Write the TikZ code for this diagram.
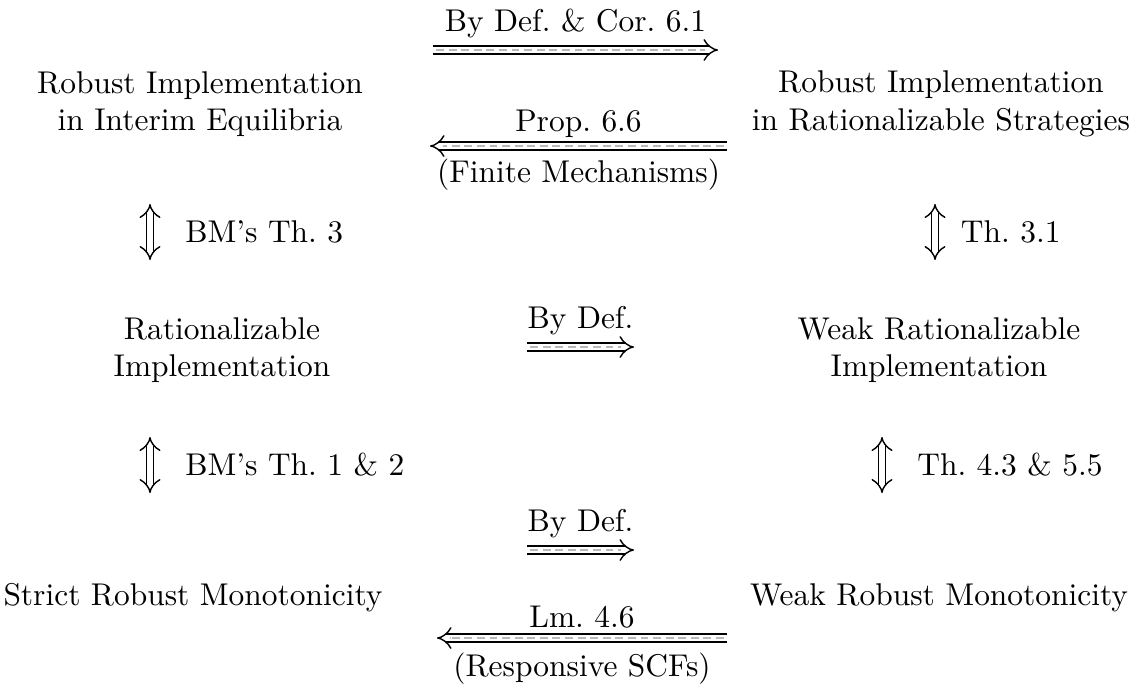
\documentclass[tikz,border=0pt]{standalone}
\usetikzlibrary{arrows.meta}
\begin{document}
\begin{tikzpicture}[x=0.318pt,y=-0.318pt,
  txt/.style={align=center,inner sep=0pt},
  lbl/.style={inner sep=0pt},
  imp/.style={double,double distance=2pt,line width=0.45pt,-{Implies},
    postaction={draw=gray!55,line width=0.35pt,dash pattern=on 2.5pt off 1.5pt,shorten >=4pt,shorten <=1pt}},
  impboth/.style={double,double distance=1.9pt,line width=0.45pt,{Implies}-{Implies}}]
\useasboundingbox (0,0) rectangle (1132,683);
% main nodes
\node[txt] (rie) at (200,104) {Robust Implementation\\in Interim Equilibria};
\node[txt] (rrs) at (941,104) {Robust Implementation\\in Rationalizable Strategies};
\node[txt] (ri) at (222,350) {Rationalizable\\Implementation};
\node[txt] (wri) at (939,350) {Weak Rationalizable\\Implementation};
\node[txt] (srm) at (193,598) {Strict Robust Monotonicity};
\node[txt] (wrm) at (939,598) {Weak Robust Monotonicity};
% arrow endpoints
\coordinate (a1s) at (433,50); \coordinate (a1e) at (718,50);
\coordinate (a2s) at (727,146); \coordinate (a2e) at (430,146);
\coordinate (a3s) at (150,204); \coordinate (a3e) at (150,260);
\coordinate (a4s) at (935,204); \coordinate (a4e) at (935,260);
\coordinate (a5s) at (527,347); \coordinate (a5e) at (634,347);
\coordinate (a6s) at (150,437); \coordinate (a6e) at (150,493);
\coordinate (a7s) at (882,437); \coordinate (a7e) at (882,493);
\coordinate (a8s) at (527,550); \coordinate (a8e) at (634,550);
\coordinate (a9s) at (727,638); \coordinate (a9e) at (437,638);
% arrows
\draw[imp] (a1s) -- (a1e) node[midway,above=3.5pt,lbl] (l1) {By Def.\ \& Cor.\ 6.1};
\draw[imp] (a2s) -- (a2e) node[midway,above=2.5pt,lbl] (l2) {Prop.\ 6.6}
  node[midway,below=4pt,lbl] (l2b) {(Finite Mechanisms)};
\draw[impboth] (a3s) -- (a3e) node[midway,right=11pt,lbl] (l3) {BM's Th.\ 3};
\draw[impboth] (a4s) -- (a4e) node[midway,right=8pt,lbl] (l4) {Th.\ 3.1};
\draw[imp] (a5s) -- (a5e) node[midway,above=3.5pt,lbl] (l5) {By Def.};
\draw[impboth] (a6s) -- (a6e) node[midway,right=11pt,lbl] (l6) {BM's Th.\ 1 \& 2};
\draw[impboth] (a7s) -- (a7e) node[midway,right=11pt,lbl] (l7) {Th.\ 4.3 \& 5.5};
\draw[imp] (a8s) -- (a8e) node[midway,above=3.5pt,lbl] (l8) {By Def.};
\draw[imp] (a9s) -- (a9e) node[midway,above=3pt,lbl] (l9) {Lm.\ 4.6}
  node[midway,below=4.5pt,lbl] (l9b) {(Responsive SCFs)};
\end{tikzpicture}
\end{document}
